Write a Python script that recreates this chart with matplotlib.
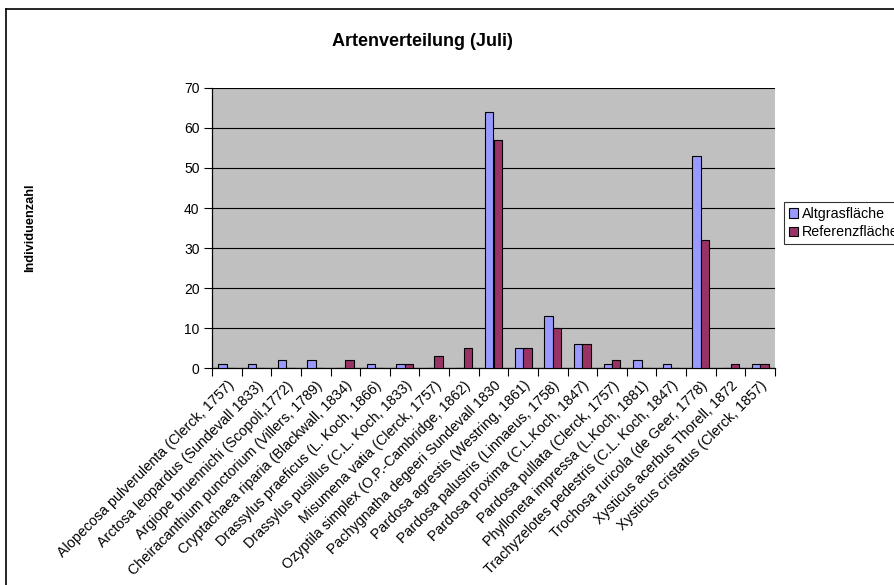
import matplotlib
matplotlib.use("Agg")
import matplotlib.pyplot as plt
from matplotlib.lines import Line2D
import numpy as np

plt.rcParams['font.family'] = ['Liberation Sans', 'DejaVu Sans']

species = [
    "Alopecosa pulverulenta (Clerck, 1757)",
    "Arctosa leopardus (Sundevall 1833)",
    "Argiope bruennichi (Scopoli,1772)",
    "Cheiracanthium punctorium (Villers, 1789)",
    "Cryptachaea riparia (Blackwall, 1834)",
    "Drassylus praeficus (L. Koch, 1866)",
    "Drassylus pusillus (C.L. Koch, 1833)",
    "Misumena vatia (Clerck, 1757)",
    "Ozyptila simplex (O.P.-Cambridge, 1862)",
    "Pachygnatha degeeri Sundevall 1830",
    "Pardosa agrestis (Westring, 1861)",
    "Pardosa palustris (Linnaeus, 1758)",
    "Pardosa proxima (C.L.Koch, 1847)",
    "Pardosa pullata (Clerck, 1757)",
    "Phylloneta impressa (L.Koch, 1881)",
    "Trachyzelotes pedestris (C.L. Koch, 1847)",
    "Trochosa ruricola (de Geer, 1778)",
    "Xysticus acerbus Thorell, 1872",
    "Xysticus cristatus (Clerck, 1857)",
]
altgras = [1, 1, 2, 2, 0, 1, 1, 0, 0, 64, 5, 13, 6, 1, 2, 1, 53, 0, 1]
referenz = [0, 0, 0, 0, 2, 0, 1, 3, 5, 57, 5, 10, 6, 2, 0, 0, 32, 1, 1]
y_ticks = [0, 10, 20, 30, 40, 50, 60, 70]

fig = plt.figure(figsize=(8.94, 5.85), dpi=100)
ax = fig.add_axes([212 / 894, 1 - 368 / 585, 563 / 894, 280 / 585])
ax.set_facecolor('#C0C0C0')

x = np.arange(len(species))
w = 0.285
ax.bar(x - w / 2, altgras, w, color='#9999FF', edgecolor='black', linewidth=0.8,
       label='Altgrasfläche', zorder=3)
ax.bar(x + w / 2, referenz, w, color='#993366', edgecolor='black', linewidth=0.8,
       label='Referenzfläche', zorder=3)

ax.set_xlim(-0.5, len(species) - 0.5)
ax.set_ylim(0, 70)
ax.set_yticks(y_ticks)
ax.tick_params(axis='y', length=6, width=0.8, labelsize=10, pad=3, direction='out')
ax.grid(axis='y', color='black', linewidth=0.8, zorder=1)

# category ticks sit between groups, labels at group centres
ax.set_xticks(np.arange(len(species) + 1) - 0.5)
ax.set_xticklabels([])
ax.tick_params(axis='x', length=6, width=0.8, direction='out')
for i, name in enumerate(species):
    ax.text(i, -2.6, name, rotation=45, ha='right', va='top',
            rotation_mode='anchor', fontsize=10.3)

for side in ('top', 'right'):
    ax.spines[side].set_visible(False)
ax.spines['left'].set_linewidth(0.9)
ax.spines['bottom'].set_linewidth(0.9)

fig.text(422 / 894, 1 - 42 / 585, 'Artenverteilung (Juli)', ha='center', va='center',
         fontsize=13, fontweight='bold')
fig.text(30 / 894, 1 - 228 / 585, 'Individuenzahl', rotation=90, ha='center',
         va='center', fontsize=9.2, fontweight='bold')

leg = fig.legend(loc='upper left', bbox_to_anchor=(784 / 894, 1 - 202 / 585),
                 fontsize=10.3, frameon=True, fancybox=False, borderaxespad=0,
                 handlelength=0.6, handleheight=0.6, handletextpad=0.3,
                 borderpad=0.35, labelspacing=0.3)
leg.get_frame().set_edgecolor('black')
leg.get_frame().set_linewidth(0.8)

# chart area frame
fig.add_artist(Line2D([6 / 894, 1], [1 - 9 / 585, 1 - 9 / 585], color='black',
                      linewidth=1.2, transform=fig.transFigure))
fig.add_artist(Line2D([6 / 894, 6 / 894], [0, 1 - 9 / 585], color='black',
                      linewidth=1.2, transform=fig.transFigure))

fig.savefig('out.png', dpi=100)
